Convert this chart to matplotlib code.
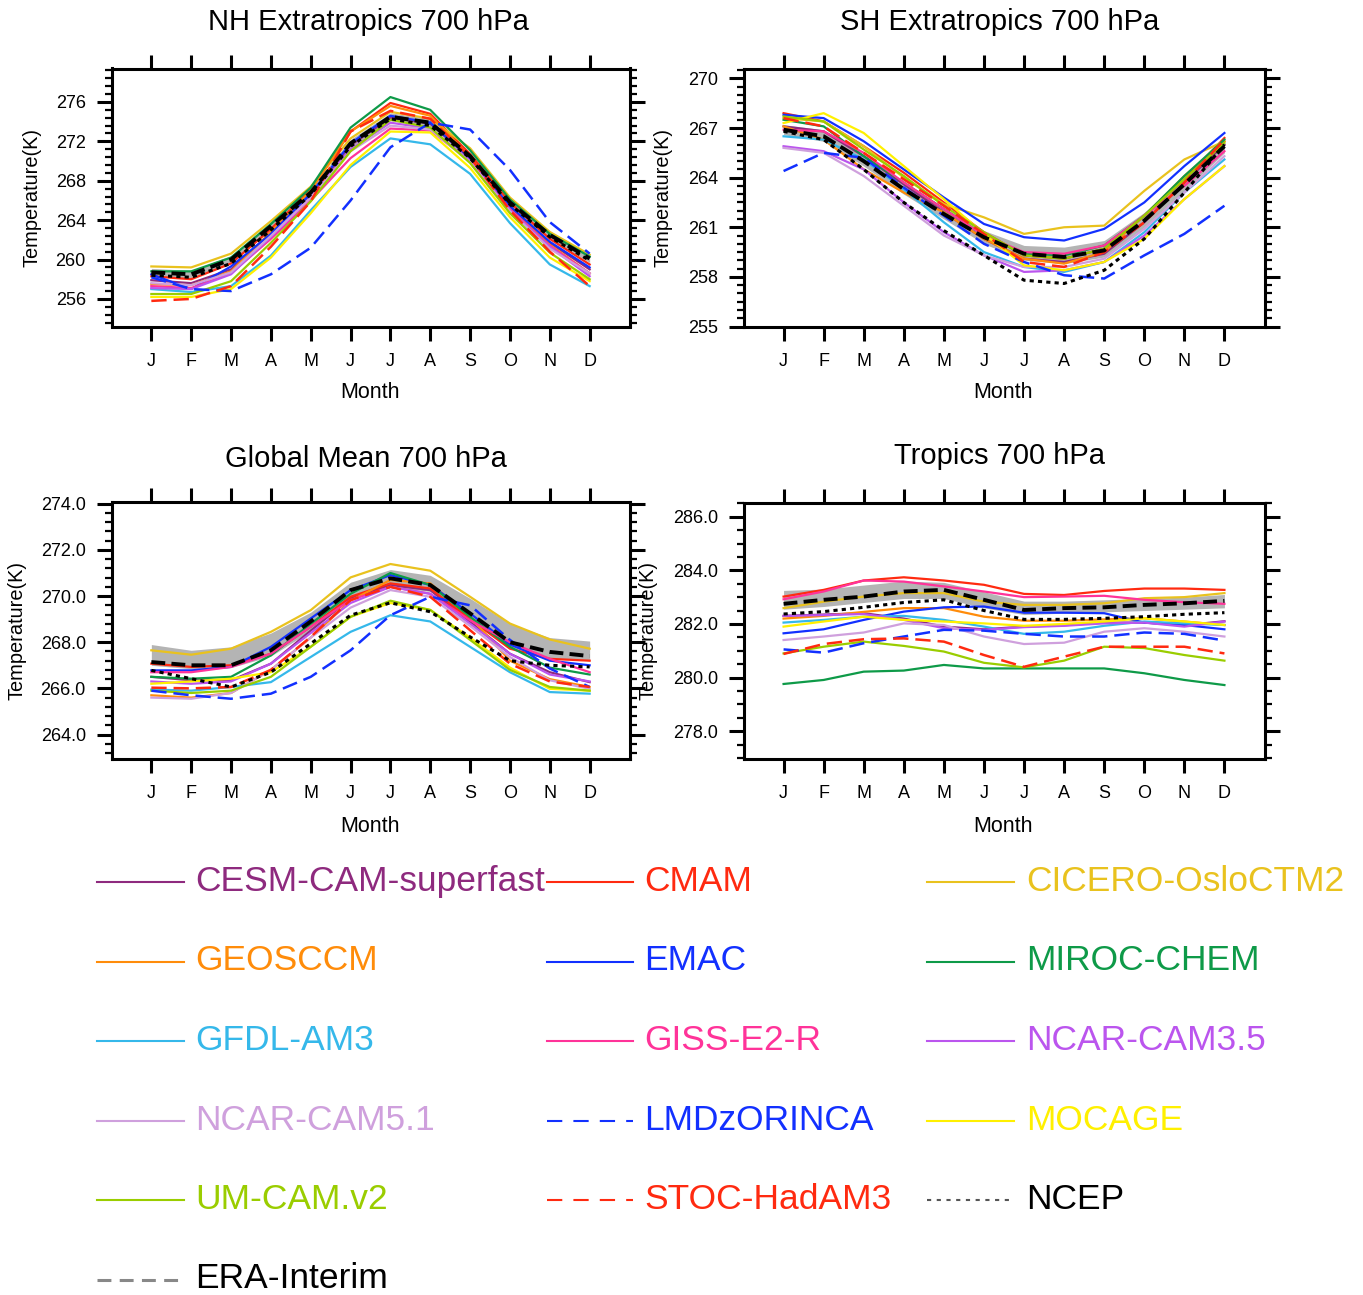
import matplotlib
matplotlib.use("Agg")
import matplotlib.pyplot as plt
from matplotlib.lines import Line2D
from matplotlib.ticker import MultipleLocator, FormatStrFormatter
import numpy as np

plt.rcParams["font.family"] = ["Liberation Sans", "DejaVu Sans"]
plt.rcParams["lines.scale_dashes"] = False

months = np.arange(1, 13)
month_labels = ["J", "F", "M", "A", "M", "J", "J", "A", "S", "O", "N", "D"]

models = ["CESM-CAM-superfast", "CMAM", "CICERO-OsloCTM2",
          "GEOSCCM", "EMAC", "MIROC-CHEM",
          "GFDL-AM3", "GISS-E2-R", "NCAR-CAM3.5",
          "NCAR-CAM5.1", "LMDzORINCA", "MOCAGE",
          "UM-CAM.v2", "STOC-HadAM3", "NCEP",
          "ERA-Interim"]

# 700 hPa monthly mean temperature (K), NH extratropics
nh = {
    "CESM-CAM-superfast": [257.9, 257.6, 259.0, 262.7, 266.6, 271.6, 274.4, 273.8, 270.3, 265.4, 261.7, 259.0],
    "CMAM":               [258.3, 258.0, 259.6, 263.1, 267.1, 273.0, 275.9, 274.8, 270.7, 265.8, 262.1, 259.5],
    "CICERO-OsloCTM2":    [259.3, 259.2, 260.6, 263.9, 267.4, 272.3, 275.0, 274.3, 271.3, 266.3, 262.8, 260.5],
    "GEOSCCM":            [257.5, 257.4, 258.8, 262.8, 267.0, 273.0, 275.6, 274.6, 270.4, 265.2, 261.5, 258.6],
    "EMAC":               [258.5, 257.0, 259.3, 262.6, 266.7, 271.8, 274.6, 273.9, 270.3, 265.4, 261.8, 259.2],
    "MIROC-CHEM":         [258.8, 258.8, 260.2, 263.6, 267.3, 273.4, 276.5, 275.2, 271.1, 266.1, 262.6, 260.3],
    "GFDL-AM3":           [257.0, 256.7, 257.3, 260.4, 265.0, 269.4, 272.3, 271.7, 268.7, 263.7, 259.5, 257.3],
    "GISS-E2-R":          [257.3, 257.1, 258.6, 262.1, 266.0, 270.3, 273.3, 273.1, 270.0, 265.1, 261.4, 258.6],
    "NCAR-CAM3.5":        [257.1, 257.0, 258.5, 262.3, 266.3, 271.2, 273.9, 273.3, 270.0, 265.0, 261.3, 258.3],
    "NCAR-CAM5.1":        [257.6, 257.4, 258.7, 262.4, 266.3, 271.0, 273.6, 273.2, 269.9, 264.9, 261.1, 258.6],
    "LMDzORINCA":         [258.2, 257.0, 256.8, 258.5, 261.2, 266.0, 271.4, 273.9, 273.2, 269.1, 263.8, 260.6],
    "MOCAGE":             [256.2, 256.2, 257.0, 260.2, 264.7, 269.6, 273.0, 272.9, 269.3, 264.3, 260.2, 257.8],
    "UM-CAM.v2":          [256.5, 256.5, 257.8, 261.7, 265.9, 271.0, 274.2, 273.4, 269.8, 264.7, 260.7, 258.0],
    "STOC-HadAM3":        [255.8, 256.0, 257.3, 261.3, 265.9, 273.0, 275.1, 274.3, 270.4, 265.0, 260.8, 257.3],
    "NCEP":               [258.4, 258.2, 259.6, 263.0, 266.6, 271.5, 274.3, 273.6, 270.3, 265.6, 262.3, 259.9],
    "ERA-Interim":        [258.7, 258.5, 260.0, 263.4, 266.8, 271.8, 274.5, 273.9, 270.5, 265.8, 262.5, 260.1],
}
nh_lo = [258.3, 258.1, 259.6, 263.0, 266.4, 271.4, 274.1, 273.5, 270.1, 265.4, 262.1, 259.7]
nh_hi = [259.1, 258.9, 260.4, 263.8, 267.2, 272.2, 274.9, 274.3, 270.9, 266.2, 262.9, 260.5]

# SH extratropics
sh = {
    "CESM-CAM-superfast": [267.1, 266.8, 265.3, 263.6, 261.9, 260.3, 259.1, 258.9, 259.4, 261.3, 263.7, 266.0],
    "CMAM":               [267.9, 267.4, 265.9, 264.3, 262.5, 260.7, 259.3, 259.1, 259.7, 261.7, 263.9, 266.4],
    "CICERO-OsloCTM2":    [267.6, 267.4, 265.9, 264.0, 262.4, 261.6, 260.6, 261.0, 261.1, 263.2, 265.1, 266.2],
    "GEOSCCM":            [267.1, 266.3, 264.5, 263.1, 261.9, 260.3, 259.1, 258.8, 259.5, 261.7, 264.1, 266.2],
    "EMAC":               [267.8, 267.6, 266.2, 264.5, 262.8, 261.2, 260.4, 260.2, 260.9, 262.5, 264.7, 266.7],
    "MIROC-CHEM":         [267.5, 267.1, 265.3, 263.7, 262.1, 260.5, 259.4, 259.3, 259.9, 261.7, 264.1, 266.3],
    "GFDL-AM3":           [266.5, 266.3, 265.1, 263.3, 261.3, 259.5, 258.6, 258.3, 258.9, 260.7, 263.1, 265.1],
    "GISS-E2-R":          [266.9, 266.8, 265.5, 263.7, 262.1, 260.5, 259.5, 259.4, 259.9, 261.7, 263.5, 265.6],
    "NCAR-CAM3.5":        [265.9, 265.6, 264.5, 262.5, 260.7, 259.3, 258.3, 258.4, 258.9, 260.5, 262.7, 264.7],
    "NCAR-CAM5.1":        [265.8, 265.5, 264.1, 262.3, 260.5, 259.3, 258.6, 258.6, 259.1, 260.9, 263.1, 265.3],
    "LMDzORINCA":         [264.4, 265.5, 265.2, 263.4, 261.7, 260.0, 258.9, 258.1, 257.9, 259.3, 260.6, 262.3],
    "MOCAGE":             [267.3, 267.9, 266.7, 264.7, 262.7, 260.6, 258.7, 258.4, 258.9, 260.3, 262.7, 264.7],
    "UM-CAM.v2":          [267.7, 267.4, 265.7, 264.1, 262.3, 260.7, 259.3, 259.1, 259.7, 261.7, 263.9, 266.1],
    "STOC-HadAM3":        [267.6, 267.1, 265.5, 263.9, 262.3, 260.6, 258.9, 258.6, 259.5, 261.3, 263.7, 266.3],
    "NCEP":               [266.8, 266.3, 264.5, 262.5, 260.8, 259.3, 257.8, 257.6, 258.4, 260.3, 263.1, 266.0],
    "ERA-Interim":        [266.9, 266.5, 265.0, 263.3, 261.8, 260.4, 259.4, 259.2, 259.6, 261.4, 263.6, 265.9],
}
sh_lo = [266.6, 266.2, 264.7, 263.0, 261.5, 260.0, 259.0, 258.8, 259.2, 261.0, 263.2, 265.5]
sh_hi = [267.2, 266.9, 265.4, 263.7, 262.2, 260.8, 259.9, 259.8, 260.2, 261.9, 264.0, 266.3]

# Global mean
gl = {
    "CESM-CAM-superfast": [266.5, 266.35, 266.35, 267.07, 268.5, 269.9, 270.48, 270.26, 268.88, 267.5, 266.7, 266.27],
    "CMAM":               [267.07, 266.93, 267.0, 267.5, 268.67, 269.97, 270.55, 270.33, 269.0, 267.72, 267.28, 267.2],
    "CICERO-OsloCTM2":    [267.65, 267.46, 267.72, 268.45, 269.39, 270.81, 271.39, 271.1, 269.97, 268.81, 268.12, 267.72],
    "GEOSCCM":            [265.7, 265.6, 265.8, 266.8, 268.2, 269.8, 270.7, 270.55, 269.1, 267.2, 266.4, 266.06],
    "EMAC":               [266.78, 266.78, 266.93, 267.8, 269.03, 270.26, 270.91, 270.48, 269.25, 267.9, 267.2, 267.0],
    "MIROC-CHEM":         [266.5, 266.42, 266.5, 267.43, 268.8, 270.1, 271.0, 270.48, 269.1, 267.8, 266.9, 266.6],
    "GFDL-AM3":           [265.95, 265.9, 266.06, 266.27, 267.36, 268.45, 269.17, 268.9, 267.8, 266.7, 265.84, 265.77],
    "GISS-E2-R":          [266.7, 266.7, 266.93, 267.5, 268.67, 269.83, 270.4, 270.1, 268.95, 268.0, 267.28, 266.7],
    "NCAR-CAM3.5":        [266.3, 266.2, 266.3, 267.07, 268.4, 269.7, 270.4, 270.1, 268.8, 267.5, 266.6, 266.3],
    "NCAR-CAM5.1":        [265.6, 265.55, 265.8, 266.8, 268.2, 269.5, 270.26, 269.97, 268.7, 267.36, 266.35, 265.98],
    "LMDzORINCA":         [265.9, 265.7, 265.55, 265.77, 266.5, 267.65, 269.17, 269.97, 269.6, 268.1, 266.86, 266.06],
    "MOCAGE":             [266.2, 266.3, 266.42, 266.7, 267.8, 269.1, 269.7, 269.4, 268.2, 266.9, 265.98, 265.9],
    "UM-CAM.v2":          [265.9, 265.8, 265.9, 266.5, 267.8, 269.1, 269.8, 269.4, 268.1, 266.8, 266.06, 265.9],
    "STOC-HadAM3":        [266.03, 266.0, 266.06, 266.8, 268.23, 269.83, 270.4, 269.97, 268.52, 267.07, 266.3, 266.06],
    "NCEP":               [266.78, 266.42, 266.06, 266.7, 267.94, 269.17, 269.71, 269.32, 268.23, 267.2, 267.0, 266.93],
    "ERA-Interim":        [267.14, 267.0, 267.0, 267.65, 268.9, 270.26, 270.77, 270.48, 269.25, 268.0, 267.58, 267.4],
}
gl_lo = [267.0, 266.85, 266.9, 267.4, 268.5, 269.9, 270.4, 270.2, 269.0, 267.8, 267.3, 267.2]
gl_hi = [267.9, 267.65, 267.8, 268.4, 269.3, 270.6, 271.15, 270.9, 269.9, 268.8, 268.2, 268.05]

# Tropics
tr = {
    "CESM-CAM-superfast": [282.3, 282.35, 282.4, 282.2, 281.9, 281.8, 281.9, 281.95, 282.05, 282.05, 281.95, 282.1],
    "CMAM":               [283.02, 283.27, 283.62, 283.74, 283.62, 283.46, 283.12, 283.08, 283.23, 283.32, 283.32, 283.27],
    "CICERO-OsloCTM2":    [282.59, 282.83, 283.02, 283.15, 283.15, 282.83, 282.71, 282.71, 282.77, 282.96, 283.0, 283.15],
    "GEOSCCM":            [282.2, 282.3, 282.45, 282.59, 282.59, 282.27, 282.12, 282.12, 282.17, 282.21, 282.09, 281.96],
    "EMAC":               [281.65, 281.8, 282.15, 282.46, 282.62, 282.65, 282.42, 282.42, 282.4, 282.05, 281.96, 281.8],
    "MIROC-CHEM":         [279.76, 279.91, 280.22, 280.26, 280.47, 280.34, 280.34, 280.34, 280.34, 280.16, 279.91, 279.72],
    "GFDL-AM3":           [282.05, 282.15, 282.27, 282.3, 282.15, 281.9, 281.63, 281.71, 281.93, 282.09, 282.02, 281.96],
    "GISS-E2-R":          [282.92, 283.21, 283.62, 283.58, 283.4, 283.21, 283.0, 283.02, 283.05, 282.9, 282.81, 282.75],
    "NCAR-CAM3.5":        [282.3, 282.33, 282.37, 282.15, 281.84, 281.78, 281.88, 281.93, 282.02, 282.05, 281.9, 282.09],
    "NCAR-CAM5.1":        [281.4, 281.53, 281.68, 282.02, 281.96, 281.53, 281.25, 281.3, 281.71, 281.84, 281.71, 281.53],
    "LMDzORINCA":         [281.05, 280.93, 281.28, 281.53, 281.78, 281.75, 281.63, 281.53, 281.53, 281.68, 281.63, 281.38],
    "MOCAGE":             [281.9, 282.09, 282.27, 282.15, 282.09, 282.02, 281.93, 282.0, 282.09, 282.21, 282.09, 281.96],
    "UM-CAM.v2":          [280.9, 281.15, 281.34, 281.18, 280.97, 280.55, 280.38, 280.63, 281.15, 281.1, 280.84, 280.63],
    "STOC-HadAM3":        [280.88, 281.25, 281.43, 281.46, 281.34, 280.84, 280.4, 280.78, 281.15, 281.15, 281.15, 280.9],
    "NCEP":               [282.37, 282.46, 282.62, 282.8, 282.9, 282.5, 282.17, 282.17, 282.21, 282.27, 282.36, 282.42],
    "ERA-Interim":        [282.75, 282.9, 283.02, 283.21, 283.27, 282.9, 282.52, 282.59, 282.62, 282.71, 282.77, 282.86],
}
tr_lo = [282.55, 282.65, 282.8, 282.95, 282.95, 282.6, 282.35, 282.4, 282.45, 282.5, 282.55, 282.6]
tr_hi = [283.25, 283.3, 283.45, 283.6, 283.55, 283.2, 282.85, 282.85, 282.9, 282.95, 283.0, 283.1]

colors = {
    "CESM-CAM-superfast": "#8E2A7E", "CMAM": "#FF2A10", "CICERO-OsloCTM2": "#E9C21E",
    "GEOSCCM": "#FF8C0A", "EMAC": "#1230FF", "MIROC-CHEM": "#0E9A48",
    "GFDL-AM3": "#35B8EA", "GISS-E2-R": "#FF3399", "NCAR-CAM3.5": "#BB55EE",
    "NCAR-CAM5.1": "#CFA0DD", "LMDzORINCA": "#1230FF", "MOCAGE": "#FFF000",
    "UM-CAM.v2": "#9ACD00", "STOC-HadAM3": "#FF2A10", "NCEP": "#000000",
    "ERA-Interim": "#000000",
}
dashed_models = {"LMDzORINCA", "STOC-HadAM3"}

W, H = 1363, 1295
fig = plt.figure(figsize=(W / 100, H / 100), dpi=100)


def px_axes(left, top, right, bottom):
    return fig.add_axes([left / W, 1 - bottom / H, (right - left) / W, (bottom - top) / H])


def draw_panel(ax, data, lo, hi, ylim, major, minor, fmt):
    ax.fill_between(months, lo, hi, color="#b4b4b4", lw=0, zorder=1)
    for name in models[:-2]:
        if name in dashed_models:
            ax.plot(months, data[name], color=colors[name], lw=1.8, dashes=(11, 5), zorder=3)
        else:
            ax.plot(months, data[name], color=colors[name], lw=1.6, zorder=2)
    ax.plot(months, data["NCEP"], color="k", lw=2.2, dashes=(3, 3), zorder=4)
    ax.plot(months, data["ERA-Interim"], color="k", lw=2.8, dashes=(10, 4.5), zorder=4)
    ax.set_xlim(0, 13)
    ax.set_ylim(*ylim)
    ax.set_xticks(months)
    ax.set_xticklabels(month_labels)
    ax.yaxis.set_major_locator(MultipleLocator(major))
    ax.yaxis.set_minor_locator(MultipleLocator(minor))
    ax.yaxis.set_major_formatter(FormatStrFormatter(fmt))
    ax.tick_params(axis="both", which="both", direction="out", top=True, right=True,
                   labeltop=False, labelright=False)
    ax.tick_params(axis="y", which="major", length=11, width=2.2, pad=7.5, labelsize=13)
    ax.tick_params(axis="y", which="minor", length=5, width=1.6)
    ax.tick_params(axis="x", which="major", length=10, width=2.2, pad=9, labelsize=13)
    for sp in ax.spines.values():
        sp.set_linewidth(2.2)


ax_nh = px_axes(111.5, 68.5, 629.5, 326.5)
draw_panel(ax_nh, nh, nh_lo, nh_hi, (253.2, 279.4), 4, 0.8, "%d")
ax_sh = px_axes(743.5, 68.5, 1264.5, 326.5)
draw_panel(ax_sh, sh, sh_lo, sh_hi, (255.0, 270.6), 3, 0.5, "%d")
ax_gl = px_axes(111.5, 501.5, 629.5, 758.5)
draw_panel(ax_gl, gl, gl_lo, gl_hi, (262.96, 274.1), 2, 0.4, "%.1f")
ax_tr = px_axes(743.5, 502.5, 1264.5, 758.5)
draw_panel(ax_tr, tr, tr_lo, tr_hi, (276.98, 286.53), 2, 0.5, "%.1f")

# panel titles, axis labels
titles = [("NH Extratropics 700 hPa", 368, 30), ("SH Extratropics 700 hPa", 1000, 30),
          ("Global Mean 700 hPa", 366, 467), ("Tropics 700 hPa", 1000, 464)]
for txt, x, y in titles:
    fig.text(x / W, 1 - y / H, txt, fontsize=21, ha="center", va="baseline")

for x, y in [(370, 398.5), (1003, 398.5), (370, 831.5), (1003, 831.5)]:
    fig.text(x / W, 1 - y / H, "Month", fontsize=15.5, ha="center", va="baseline")

for x, y in [(32, 197.5), (663, 197.5), (17, 630), (648, 630)]:
    fig.text(x / W, 1 - y / H, "Temperature(K)", fontsize=14.4, rotation=90,
             ha="center", va="center")

# legend, three columns
col_line = [(97, 184), (547, 633), (927, 1014)]
col_text = [195, 644, 1026]
for i, name in enumerate(models):
    row, col = divmod(i, 3)
    base = 891 + row * 79.5
    ly = 1 - (base - 9) / H
    x0, x1 = col_line[col]
    if name == "ERA-Interim":
        kw = dict(color="#888888", lw=2.2, dashes=(10, 6))
        tcol = "k"
    elif name == "NCEP":
        kw = dict(color="#555555", lw=1.5, dashes=(3, 4))
        tcol = "k"
    elif name in dashed_models:
        kw = dict(color=colors[name], lw=1.5, dashes=(11, 8))
        tcol = colors[name]
    else:
        kw = dict(color=colors[name], lw=1.5)
        tcol = colors[name]
    fig.add_artist(Line2D([x0 / W, x1 / W], [ly, ly], transform=fig.transFigure, **kw))
    fig.text(col_text[col] / W, 1 - base / H, name, color=tcol, fontsize=25.5,
             ha="left", va="baseline")

fig.savefig("out.png", dpi=100)
